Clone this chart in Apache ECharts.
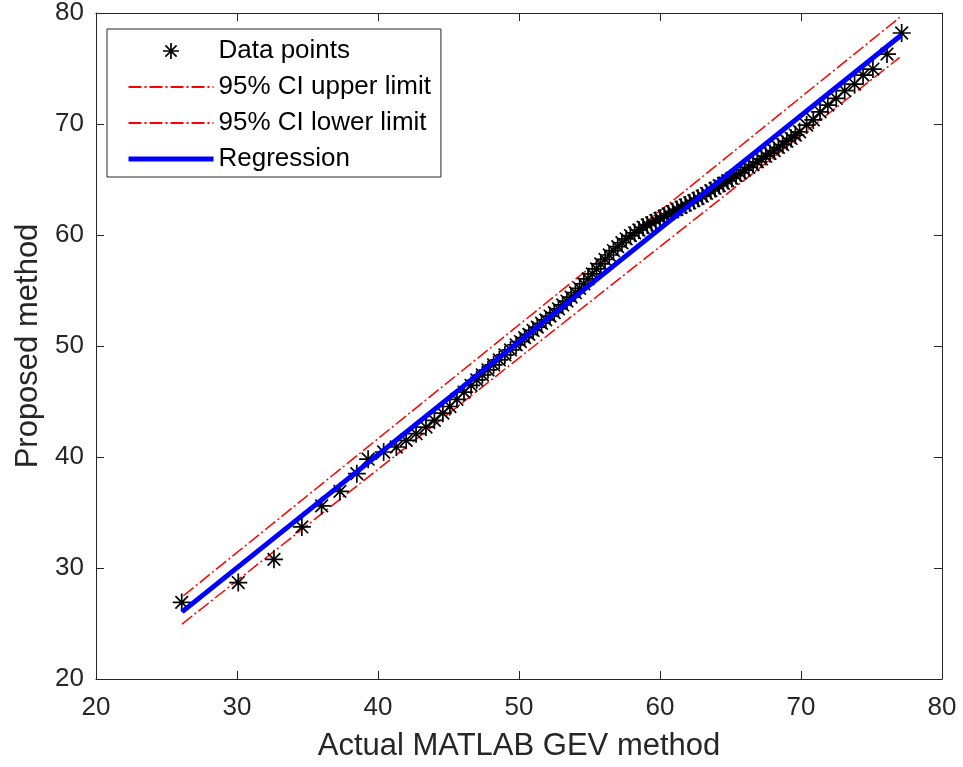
<!DOCTYPE html>
<html>
<head>
<meta charset="utf-8">
<script src="https://cdn.jsdelivr.net/npm/echarts@6/dist/echarts.min.js"></script>
<style>
html,body{margin:0;padding:0;background:#fff;}
#chart{width:963px;height:767px;}
</style>
</head>
<body>
<div id="chart"></div>
<script>
// ---- data ----
var pointX = [26.08, 30.09, 32.62, 34.6, 36.0, 37.3, 38.5, 39.3, 40.4, 41.3, 42.0, 42.7, 43.4, 44.0, 44.6, 45.1, 45.6, 46.1, 46.6, 47.0, 47.4, 47.8, 48.2, 48.6, 49.0, 49.4, 49.8, 50.1, 50.4, 50.7, 51.0, 51.3, 51.6, 51.9, 52.2, 52.5, 52.8, 53.1, 53.4, 53.7, 54.0, 54.3, 54.6, 54.9, 55.2, 55.5, 55.8, 56.1, 56.4, 56.7, 57.0, 57.3, 57.6, 57.9, 58.2, 58.5, 58.8, 59.1, 59.4, 59.7, 60.0, 60.3, 60.6, 60.9, 61.2, 61.5, 61.8, 62.1, 62.4, 62.7, 63.0, 63.3, 63.6, 63.9, 64.2, 64.5, 64.8, 65.1, 65.4, 65.7, 66.0, 66.3, 66.6, 66.9, 67.2, 67.5, 67.8, 68.1, 68.4, 68.7, 69.0, 69.3, 69.6, 69.9, 70.4, 70.87, 71.35, 71.9, 72.5, 73.1, 73.8, 74.4, 75.1, 76.1, 77.14];
var pointY = [26.9, 28.69, 30.78, 33.7, 35.6, 36.9, 38.5, 39.8, 40.45, 40.9, 41.5, 42.1, 42.7, 43.3, 43.95, 44.55, 45.2, 45.85, 46.45, 46.95, 47.4, 47.85, 48.3, 48.75, 49.2, 49.65, 50.1, 50.4, 50.75, 51.05, 51.4, 51.7, 52.05, 52.35, 52.7, 53.0, 53.35, 53.7, 54.05, 54.4, 54.8, 55.2, 55.6, 56.05, 56.5, 56.95, 57.4, 57.8, 58.2, 58.6, 58.95, 59.3, 59.65, 59.95, 60.2, 60.45, 60.7, 60.9, 61.1, 61.3, 61.5, 61.7, 61.9, 62.1, 62.3, 62.5, 62.7, 62.9, 63.1, 63.3, 63.5, 63.75, 64.0, 64.2, 64.45, 64.65, 64.9, 65.1, 65.35, 65.6, 65.85, 66.1, 66.35, 66.6, 66.85, 67.1, 67.35, 67.6, 67.9, 68.15, 68.45, 68.7, 69.0, 69.3, 69.9, 70.37, 71.1, 71.7, 72.3, 73.0, 73.6, 74.4, 74.95, 76.3, 78.2];

var upperX = [26.2, 77.0];
var upperY = [27.5, 79.6];
var lowerX = [26.1, 77.0];
var lowerY = [24.95, 76.0];
var regX = [26.1, 77.1];
var regY = [26.05, 78.0];

var xTicks = [20, 30, 40, 50, 60, 70, 80];
var yTicks = [20, 30, 40, 50, 60, 70, 80];

var seriesNames = ['Data points', '95% CI upper limit', '95% CI lower limit', 'Regression'];
var xName = 'Actual MATLAB GEV method';
var yName = 'Proposed method';

function pairs(xs, ys) { return xs.map(function (x, i) { return [x, ys[i]]; }); }

var FONT = "'Liberation Sans', Arial, Helvetica, sans-serif";
var AX = '#262626';

var chart = echarts.init(document.getElementById('chart'), null, { renderer: 'canvas' });

function baseAxis(pos, ticks, showLabel) {
  return {
    type: 'value',
    position: pos,
    min: ticks[0],
    max: ticks[ticks.length - 1],
    interval: ticks[1] - ticks[0],
    axisLine: { show: true, onZero: false, lineStyle: { color: AX, width: 1 } },
    axisTick: { show: true, inside: true, length: 8, lineStyle: { color: AX, width: 1 } },
    axisLabel: { show: showLabel, color: AX, fontSize: 26, fontFamily: FONT },
    splitLine: { show: false }
  };
}

var xb = baseAxis('bottom', xTicks, true);
xb.axisLabel.margin = 16;
xb.name = xName; xb.nameLocation = 'middle'; xb.nameGap = 52;
xb.nameTextStyle = { color: AX, fontSize: 31, fontFamily: FONT };
var xt = baseAxis('top', xTicks, false);
var yl = baseAxis('left', yTicks, true);
yl.axisLabel.margin = 12;
yl.name = yName; yl.nameLocation = 'middle'; yl.nameGap = 51;
yl.nameTextStyle = { color: AX, fontSize: 31, fontFamily: FONT };
var yr = baseAxis('right', yTicks, false);

var starPath = 'path://M10,0L10,20M0,10L20,10M3,3L17,17M3,17L17,3';
var dashDot = [13, 3, 2, 3];

chart.setOption({
  animation: false,
  backgroundColor: '#ffffff',
  textStyle: { fontFamily: FONT },
  grid: { left: 96, right: 21, top: 7, bottom: 88, containLabel: false },
  xAxis: [xb, xt],
  yAxis: [yl, yr],
  legend: {
    orient: 'vertical',
    left: 107, top: 29,
    padding: [9, 10, 5, 19],
    itemWidth: 85, itemHeight: 16, itemGap: 10,
    borderColor: '#262626', borderWidth: 1,
    backgroundColor: '#ffffff',
    textStyle: { color: '#000', fontSize: 26, fontFamily: FONT },
    data: [
      { name: seriesNames[0], itemStyle: { opacity: 1, borderColor: '#000', borderWidth: 1.7 } },
      { name: seriesNames[1], itemStyle: { opacity: 0 } },
      { name: seriesNames[2], itemStyle: { opacity: 0 } },
      { name: seriesNames[3], itemStyle: { opacity: 0 }, lineStyle: { width: 5, color: '#0000ff' } }
    ]
  },
  series: [
    {
      name: seriesNames[0], type: 'scatter', xAxisIndex: 0, yAxisIndex: 0,
      symbol: starPath, symbolSize: 18, symbolKeepAspect: true,
      itemStyle: { color: 'rgba(0,0,0,0)', borderColor: '#000', borderWidth: 1.7, opacity: 1 },
      data: pairs(pointX, pointY), z: 3
    },
    {
      name: seriesNames[1], type: 'line', symbol: 'none',
      lineStyle: { color: '#ff0000', width: 1.5, type: dashDot },
      itemStyle: { color: '#ff0000' },
      data: pairs(upperX, upperY), z: 2
    },
    {
      name: seriesNames[2], type: 'line', symbol: 'none',
      lineStyle: { color: '#ff0000', width: 1.5, type: dashDot },
      itemStyle: { color: '#ff0000' },
      data: pairs(lowerX, lowerY), z: 2
    },
    {
      name: seriesNames[3], type: 'line', symbol: 'none',
      lineStyle: { color: '#0000ff', width: 5 },
      itemStyle: { color: '#0000ff' },
      data: pairs(regX, regY), z: 4
    }
  ]
});
</script>
</body>
</html>
